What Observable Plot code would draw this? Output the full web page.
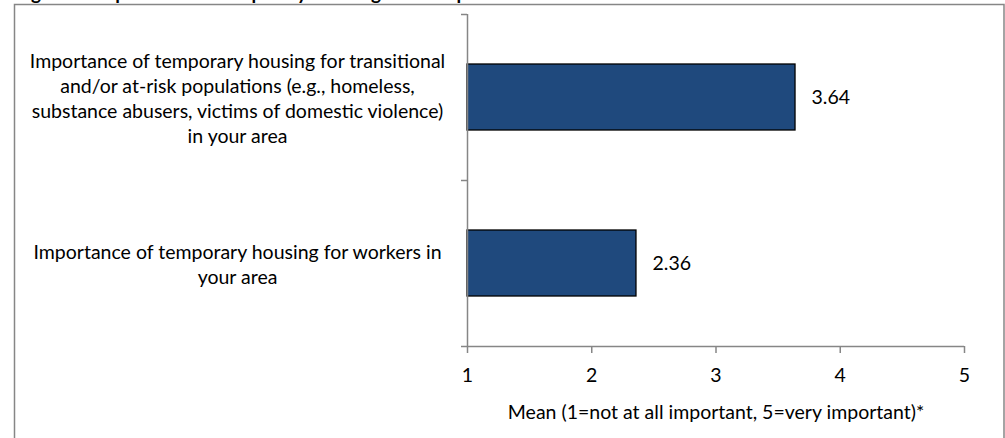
<!DOCTYPE html>
<html><head><meta charset="utf-8">
<script src="https://cdn.jsdelivr.net/npm/d3@7"></script>
<script src="https://cdn.jsdelivr.net/npm/@observablehq/plot@0.6"></script>
<style>body{margin:0;background:#fff;overflow:hidden;}</style>
</head><body><div id="chart"></div>
<script>
const categories = [
  "Importance of temporary housing for transitional\nand/or at-risk populations (e.g., homeless,\nsubstance abusers, victims of domestic violence)\nin your area",
  "Importance of temporary housing for workers in\nyour area"
];
const means = [3.64, 2.36];
const xDomain = [1, 5];
const xTicks = [1, 2, 3, 4, 5];
const titleText = "Figure 4: Importance of Temporary Housing for Groups";
const xLabel = "Mean (1=not at all important, 5=very important)*";

const data = categories.map((c, i) => ({category: c, mean: means[i]}));
const font = "Lato, 'Open Sans', sans-serif";
const axisColor = "#868686";
const fs = 19.5;

const plot = Plot.plot({
  width: 1005, height: 438,
  marginLeft: 467, marginRight: 41, marginTop: 14, marginBottom: 92,
  style: {fontFamily: font, fontSize: fs + "px", color: "#000", background: "#fff"},
  x: {domain: xDomain},
  y: {domain: categories, padding: 0},
  marks: [
    Plot.text([titleText], {frameAnchor: "top-left", text: d => d, dx: -452, dy: -15, lineAnchor: "bottom", fontWeight: "bold", fontSize: 19, fill: "#000"}),
    Plot.frame({stroke: axisColor, strokeWidth: 1.5, insetLeft: -453, insetTop: -10, insetRight: -39.5, insetBottom: -100}),
    Plot.barX(data, {x1: xDomain[0], x2: "mean", y: "category", insetTop: 50, insetBottom: 50, fill: "#1f497d", stroke: "#000", strokeWidth: 1.3}),
    Plot.text(data, {x: "mean", y: "category", text: d => d.mean.toFixed(2), textAnchor: "start", dx: 16, fontSize: fs, fill: "#000"}),
    Plot.text(data, {y: "category", text: "category", frameAnchor: "left", textAnchor: "middle", dx: -230, lineHeight: 25 / fs, fontSize: fs, fill: "#000"}),
    Plot.ruleX([xDomain[0]], {stroke: axisColor, strokeWidth: 1.5}),
    Plot.ruleY([categories[categories.length - 1]], {dy: 83, x1: xDomain[0], x2: xDomain[1], stroke: axisColor, strokeWidth: 1.5}),
    Plot.axisY({tickSize: 6, dy: -83, tickFormat: () => "", label: null, stroke: axisColor, strokeWidth: 1.5}),
    Plot.axisY({ticks: [categories[categories.length - 1]], tickSize: 6, dy: 83, tickFormat: () => "", label: null, stroke: axisColor, strokeWidth: 1.5}),
    Plot.axisX({ticks: xTicks, tickSize: 7, tickPadding: 15, tickFormat: d => String(d), label: null, stroke: axisColor, strokeWidth: 1.5, fontSize: fs, fill: "#000"}),
    Plot.text([xLabel], {frameAnchor: "bottom", text: d => d, dy: 66, lineAnchor: "middle", fontSize: fs, fill: "#000"})
  ]
});
document.getElementById("chart").appendChild(plot);
</script>
</body></html>
